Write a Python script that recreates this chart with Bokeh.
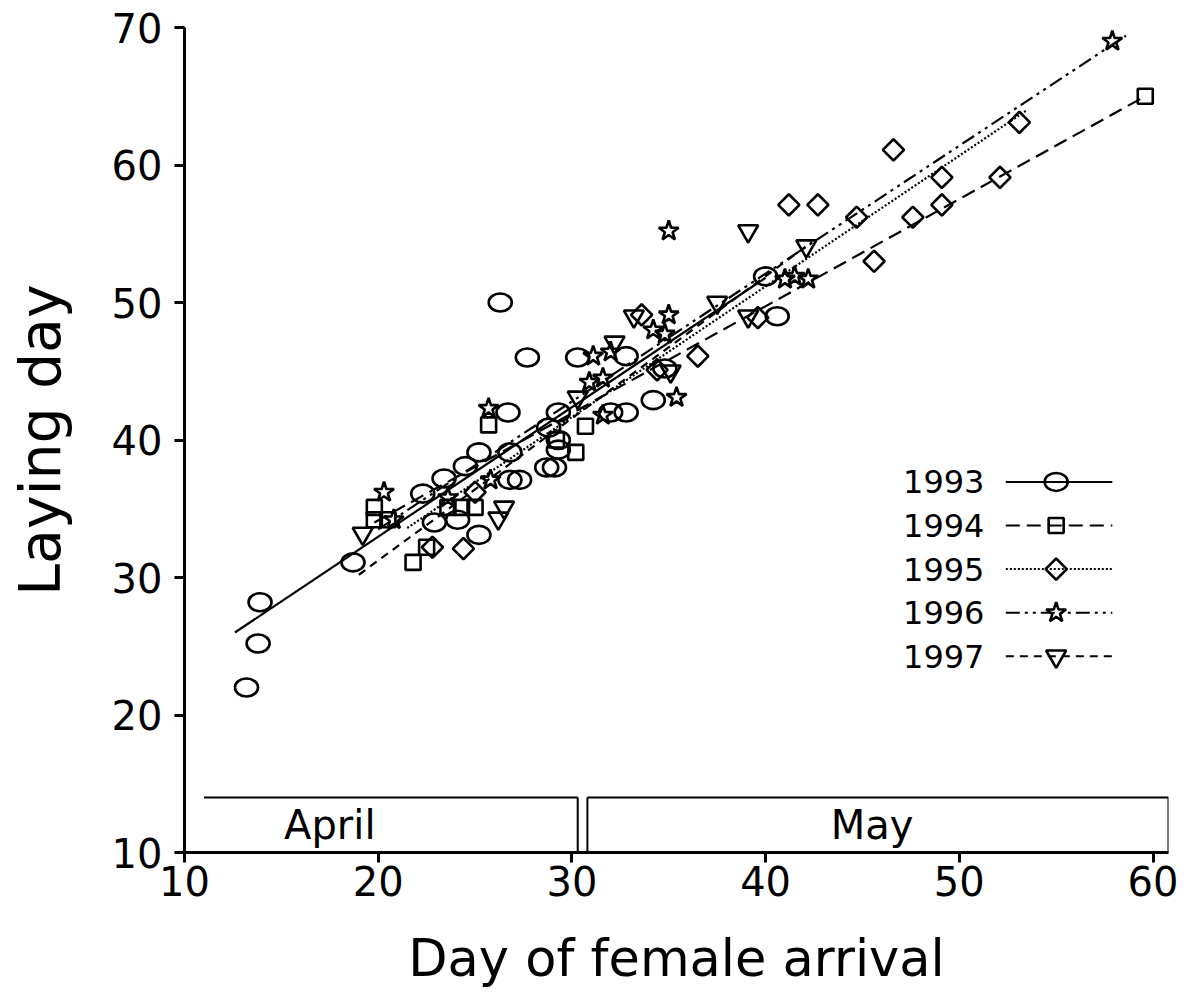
import math
from bokeh.plotting import figure
from bokeh.models import Range1d, Label, FixedTicker
from bokeh.embed import file_html
from bokeh.resources import INLINE

FONT = "DejaVu Sans"

# ---------------- data ----------------
years = ["1993", "1994", "1995", "1996", "1997"]

x1993 = [13.2, 13.8, 13.9, 18.7, 22.3, 22.9, 23.4, 24.1, 24.5, 25.2, 25.2, 26.3, 27.7, 30.3,
         26.7, 29.3, 28.8, 29.3, 29.3, 28.7, 29.1, 26.8, 26.8, 27.3, 32.8, 34.2, 32.0, 32.8,
         34.8, 40.6, 40.0]
y1993 = [22.0, 25.2, 28.2, 31.1, 36.1, 34.0, 37.2, 34.2, 38.1, 39.1, 33.1, 50.0, 46.0, 46.0,
         42.0, 42.0, 40.9, 40.0, 39.3, 38.0, 38.0, 39.1, 37.1, 37.1, 46.1, 42.9, 42.0, 42.0,
         45.2, 49.0, 51.9]

x1994 = [19.8, 19.8, 20.5, 21.8, 22.5, 23.6, 24.3, 25.0, 25.7, 30.7, 30.2, 29.2, 59.6]
y1994 = [35.1, 34.2, 34.2, 31.1, 32.2, 35.1, 35.1, 35.1, 41.1, 41.0, 39.1, 40.0, 65.0]

x1995 = [22.8, 24.4, 25.0, 33.6, 36.5, 34.4, 39.6, 45.6, 41.2, 42.7, 44.7, 47.6, 49.1, 49.1,
         52.1, 53.1, 46.6]
y1995 = [32.2, 32.1, 36.2, 49.1, 46.1, 45.1, 48.9, 53.0, 57.1, 57.1, 56.2, 56.2, 57.1, 59.1,
         59.1, 63.1, 61.1]

x1996 = [20.3, 20.8, 23.6, 25.8, 25.7, 31.1, 32.0, 30.9, 31.6, 31.6, 34.2, 34.8, 35.0, 35.0,
         35.4, 41.0, 41.5, 42.2, 57.9]
y1996 = [36.2, 34.2, 35.8, 37.1, 42.3, 46.1, 46.4, 44.2, 44.5, 41.8, 48.0, 47.7, 49.1, 55.2,
         43.1, 51.7, 51.9, 51.7, 69.0]

x1997 = [19.2, 26.2, 26.5, 30.3, 32.2, 33.2, 35.1, 37.5, 39.1, 39.1, 42.1]
y1997 = [33.2, 34.3, 35.1, 43.1, 47.1, 49.0, 45.0, 50.0, 55.2, 49.0, 54.1]

# regression lines (start / end)
fit_x0 = [12.6, 19.8, 21.5, 20.0, 19.0]
fit_x1 = [40.0, 59.6, 53.5, 58.6, 42.4]
fit_y0 = [26.0, 34.0, 33.6, 33.5, 30.2]
fit_y1 = [51.8, 65.0, 64.0, 69.4, 54.4]

# month band
months = ["April", "May"]
month_start = [11.0, 30.8]
month_end = [30.3, 60.8]
month_label_x = [17.5, 45.5]
band_top = 14.0

x_ticks = [10, 20, 30, 40, 50, 60]
y_ticks = [10, 20, 30, 40, 50, 60, 70]

# ---------------- styles ----------------
dashes = ["solid", "14 7", "2 2", "14 5 3 5 3 5", "8 6"]
markers = ["ellipse", "square", "diamond", "star", "inverted_triangle"]

p = figure(width=1188, height=994, output_backend="svg", toolbar_location=None,
           x_range=Range1d(10, 60.8), y_range=Range1d(10, 70),
           min_border_left=184, min_border_right=20, min_border_top=27, min_border_bottom=142)
p.outline_line_color = None
p.grid.visible = False
p.background_fill_color = "white"

for ax in (p.xaxis[0], p.yaxis[0]):
    ax.axis_line_width = 3
    ax.axis_line_color = "black"
    ax.major_tick_line_width = 3
    ax.major_tick_out = 10
    ax.major_tick_in = 0
    ax.minor_tick_line_color = None
    ax.major_label_text_font = FONT
    ax.major_label_text_font_size = "40px"
    ax.major_label_text_color = "black"
    ax.axis_label_text_font = FONT
    ax.axis_label_text_font_style = "normal"
    ax.axis_label_text_color = "black"

p.xaxis.axis_label_text_font_size = "51px"
p.yaxis.axis_label_text_font_size = "57px"
p.xaxis.ticker = FixedTicker(ticks=x_ticks)
p.yaxis.ticker = FixedTicker(ticks=y_ticks)
p.xaxis.axis_label = "Day of female arrival"
p.yaxis.axis_label = "Laying day"
p.xaxis.major_label_standoff = 3
p.yaxis.major_label_standoff = 12
p.xaxis.axis_label_standoff = 30
p.yaxis.axis_label_standoff = 36

xs_all = [x1993, x1994, x1995, x1996, x1997]
ys_all = [y1993, y1994, y1995, y1996, y1997]


def draw_marker(kind, xs, ys):
    if kind == "ellipse":
        p.ellipse(x=xs, y=ys, width=23, height=18, width_units="screen", height_units="screen",
                  fill_color=None, line_color="black", line_width=2.6)
    elif kind == "square":
        p.scatter(x=xs, y=ys, marker="square", size=15, fill_color=None,
                  line_color="black", line_width=2.6)
    elif kind == "diamond":
        p.scatter(x=xs, y=ys, marker="square", size=15, angle=math.pi / 4, fill_color=None,
                  line_color="black", line_width=2.6)
    elif kind == "star":
        p.scatter(x=xs, y=ys, marker="star", size=21, fill_color=None,
                  line_color="black", line_width=2.6)
    else:
        p.scatter(x=xs, y=ys, marker="inverted_triangle", size=20, fill_color=None,
                  line_color="black", line_width=2.6)


for i in range(5):
    p.line(x=[fit_x0[i], fit_x1[i]], y=[fit_y0[i], fit_y1[i]], line_color="black",
           line_width=2.2, line_dash=dashes[i])
for i in range(5):
    draw_marker(markers[i], xs_all[i], ys_all[i])

# month band
for i, m in enumerate(months):
    p.line(x=[month_start[i], month_end[i]], y=[band_top, band_top], line_color="black", line_width=2)
    p.line(x=[month_end[i], month_end[i]], y=[10, band_top], line_color="black", line_width=2)
    if i > 0:
        p.line(x=[month_start[i], month_start[i]], y=[10, band_top], line_color="black", line_width=2)
    p.add_layout(Label(x=month_label_x[i], y=(10 + band_top) / 2, text=m,
                       text_font=FONT, text_font_size="40px", text_align="center",
                       text_baseline="middle", text_color="black"))

# legend (manual: label left, sample right)
leg_text_x = 51.3
leg_line_x0 = 52.4
leg_line_x1 = 57.9
leg_mark_x = 55.0
leg_y0 = 36.95
leg_dy = 3.17
for i, yr in enumerate(years):
    yy = leg_y0 - i * leg_dy
    p.add_layout(Label(x=leg_text_x, y=yy, text=yr, text_font=FONT, text_font_size="32px",
                       text_align="right", text_baseline="middle", text_color="black"))
    p.line(x=[leg_line_x0, leg_line_x1], y=[yy, yy], line_color="black", line_width=2,
           line_dash=dashes[i])
    draw_marker(markers[i], [leg_mark_x], [yy])

open("out.html", "w").write(file_html(p, INLINE))
